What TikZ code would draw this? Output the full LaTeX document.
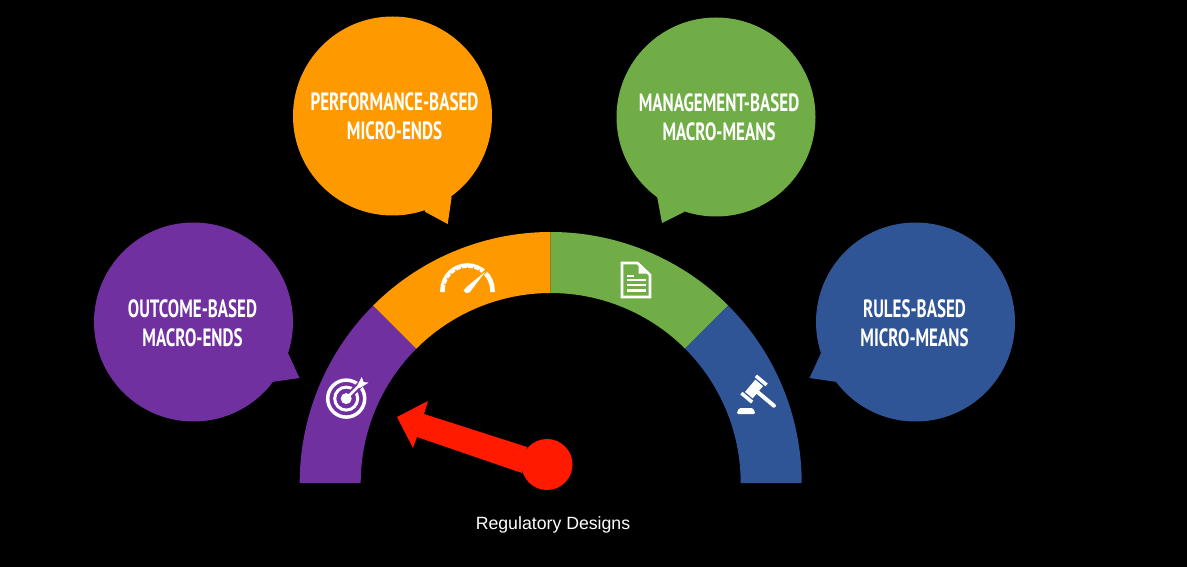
\documentclass[tikz,border=0pt]{standalone}
\usepackage{fontspec}
\setmainfont{Liberation Sans}
\newfontfamily\dinfont[FakeStretch=0.68]{PT Sans Bold}
\definecolor{cpurple}{HTML}{7030A0}
\definecolor{corange}{HTML}{FF9900}
\definecolor{cgreen}{HTML}{70AD47}
\definecolor{cblue}{HTML}{2F5597}
\definecolor{cred}{HTML}{FF1A00}
\tikzset{
  bubble/.style={circle,inner sep=0pt,minimum size=199pt},
  bubbletext/.style={text=white,align=center,inner sep=0pt,
    font=\dinfont\fontsize{25}{29}\selectfont},
  caption/.style={text=white,font=\fontsize{17.7}{20}\selectfont,inner sep=0pt},
  iconline/.style={draw=white,line width=#1},
  iconline/.default=2pt
}
\begin{document}
\begin{tikzpicture}[x=1pt,y=1pt]
\fill[black] (0,0) rectangle (1187,-567);
\useasboundingbox (0,0) rectangle (1187,-567);
% gauge bands
\begin{scope}[shift={(550.7,-483)}]
\fill[cpurple] (180:251) arc[start angle=180,end angle=135,radius=251] -- (135:190) arc[start angle=135,end angle=180,radius=190] -- cycle;
\fill[corange] (135:251) arc[start angle=135,end angle=90,radius=251] -- (90:190) arc[start angle=90,end angle=135,radius=190] -- cycle;
\fill[cgreen] (90:251) arc[start angle=90,end angle=45,radius=251] -- (45:190) arc[start angle=45,end angle=90,radius=190] -- cycle;
\fill[cblue] (45:251) arc[start angle=45,end angle=0,radius=251] -- (0:190) arc[start angle=0,end angle=45,radius=190] -- cycle;
\end{scope}
% bubble tails
\fill[cpurple] (288,-353) -- (299.5,-378) -- (272,-382) -- (260,-360) -- cycle;
\fill[corange] (451.7,-196.7) -- (447.7,-224) -- (425,-211.7) -- (420,-190) -- cycle;
\fill[cgreen] (657,-196) -- (662,-223) -- (684,-212) -- (690,-190) -- cycle;
\fill[cblue] (821,-353) -- (809.5,-378) -- (837,-382) -- (850,-360) -- cycle;
% bubbles
\node[bubble,fill=cpurple] (outcome) at (193.5,-322) {};
\node[bubble,fill=corange] (performance) at (392.5,-116) {};
\node[bubble,fill=cgreen] (management) at (716,-117) {};
\node[bubble,fill=cblue] (rules) at (915.5,-322) {};
\node[bubbletext] (outcometext) at (192.5,-323) {OUTCOME-BASED\\MACRO-ENDS};
\node[bubbletext] (performancetext) at (394.5,-116.5) {PERFORMANCE-BASED\\MICRO-ENDS};
\node[bubbletext] (managementtext) at (719,-117) {MANAGEMENT-BASED\\MACRO-MEANS};
\node[bubbletext] (rulestext) at (914.5,-323) {RULES-BASED\\MICRO-MEANS};
% needle
\fill[cred] (397,-417) -- (428,-401) -- (424,-414) -- (527,-447) -- (522,-473) -- (417,-437) -- (413,-448) -- cycle;
\fill[cred] (547,-464.5) circle[radius=25.5];
% target icon
\begin{scope}[shift={(346.2,-398.6)}]
\draw[white,line width=3.5pt] (0,0) circle[radius=18.5];
\draw[white,line width=3pt] (0,0) circle[radius=11.5];
\fill[white] (0,0) circle[radius=5.5];
\draw[cpurple,line width=6.5pt] (4,4) -- (20,20);
\draw[white,line width=2.6pt] (0,0) -- (15,15);
\fill[white] (11,13) -- (15.5,21.5) -- (17.5,16.5) -- (22.5,16) -- (13.5,10.5) -- cycle;
\end{scope}
% speedometer icon
\begin{scope}[shift={(467.5,-290.5)}]
\draw[white,line width=4.6pt] (-25,-1.5) -- (-25,0) arc[start angle=180,end angle=0,radius=25] -- (25,-1.5);
\foreach \a in {165,150,135,120,105,90,75,60}{
  \draw[corange,line width=1.2pt] (\a:22.4) -- (\a:24);
}
\draw[corange,line width=3pt] (47:21) -- (47:28);
\fill[white] (-4,0) -- (-1,3.5) -- (18,19) -- (2.5,-1.5) arc[start angle=-40,end angle=-170,radius=3.5] -- cycle;
\end{scope}
% document icon
\draw[iconline=2.7pt,line join=miter] (622,-263) -- (637.5,-263) -- (650,-275) -- (650,-297) -- (622,-297) -- cycle;
\fill[white] (638.5,-266) -- (638.5,-273.5) -- (646.5,-273.5) -- cycle;
\draw[iconline=2.1pt] (627,-275.8) -- (634,-275.8);
\draw[iconline=2.1pt] (627,-280.3) -- (646,-280.3);
\draw[iconline=2.1pt] (627,-285) -- (646,-285);
\draw[iconline=2.1pt] (627,-290.5) -- (646,-290.5);
% gavel icon
\begin{scope}[shift={(754,-389)},rotate=-40]
\fill[white] (-5,-8) rectangle (5,8);
\fill[white] (-7,-13) rectangle (7,-9.5);
\fill[white] (-7,9.5) rectangle (7,13);
\draw[white,line width=4pt,line cap=round] (4,0) -- (26,0);
\end{scope}
\fill[white,rounded corners=1.5pt] (736.5,-414) -- (739,-408) -- (753,-408) -- (755.5,-414) -- cycle;
% caption
\node[caption] (title) at (553,-524.5) {Regulatory Designs};
\end{tikzpicture}
\end{document}
